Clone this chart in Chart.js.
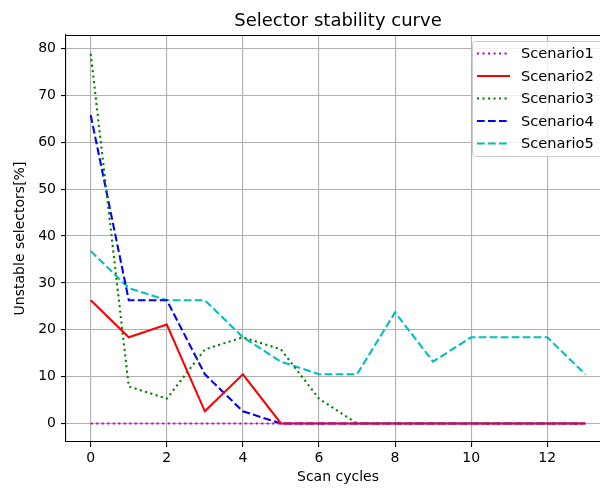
<!DOCTYPE html>
<html>
<head>
<meta charset="utf-8">
<script src="https://cdn.jsdelivr.net/npm/chart.js@4/dist/chart.umd.min.js"></script>
<style>
  html, body { margin: 0; padding: 0; background: #fff; overflow: hidden; }
  #wrap { width: 600px; height: 488px; overflow: hidden; }
</style>
</head>
<body>
<div id="wrap"><canvas id="c" width="620" height="488"></canvas></div>
<script>
// Scan cycle indices and % unstable selectors per scenario
const CYCLES = [0, 1, 2, 3, 4, 5, 6, 7, 8, 9, 10, 11, 12, 13];
const SCENARIO1 = [0, 0, 0, 0, 0, 0, 0, 0, 0, 0, 0, 0, 0, 0];
const SCENARIO2 = [26.3, 18.4, 21.1, 2.6, 10.5, 0, 0, 0, 0, 0, 0, 0, 0, 0];
const SCENARIO3 = [78.9, 7.9, 5.3, 15.8, 18.4, 15.8, 5.3, 0, 0, 0, 0, 0, 0, 0];
const SCENARIO4 = [65.8, 26.3, 26.3, 10.5, 2.6, 0, 0, 0, 0, 0, 0, 0, 0, 0];
const SCENARIO5 = [36.8, 28.9, 26.3, 26.3, 18.4, 13.2, 10.5, 10.5, 23.7, 13.2, 18.4, 18.4, 18.4, 10.5];
const NAMES = ["Scenario1", "Scenario2", "Scenario3", "Scenario4", "Scenario5"];

const FONT = '"DejaVu Sans", Verdana, sans-serif';
const LW = 2.08;
const DOTTED = [2.1, 3.4];
const DASHED = [7.7, 3.3];
const GRID = "#b0b0b0";

const series = [
  { data: SCENARIO1, color: "#bf00bf", dash: DOTTED },
  { data: SCENARIO2, color: "#ff0000", dash: [] },
  { data: SCENARIO3, color: "#008000", dash: DOTTED },
  { data: SCENARIO4, color: "#0000ff", dash: DASHED },
  { data: SCENARIO5, color: "#00bfbf", dash: DASHED },
];

const datasets = series.map((s, i) => ({
  label: NAMES[i],
  data: CYCLES.map((x, k) => ({ x, y: s.data[k] })),
  borderColor: s.color,
  borderWidth: LW,
  borderDash: s.dash,
  borderCapStyle: "butt",
  pointRadius: 0,
  tension: 0,
  fill: false,
}));

// title, top spine and matplotlib-style legend
const decor = {
  id: "decor",
  afterDatasetsDraw(chart) {
    const { ctx, chartArea: a } = chart;
    ctx.save();
    ctx.strokeStyle = "#000";
    ctx.lineWidth = 1.1;
    ctx.beginPath();
    ctx.moveTo(a.left, a.top + 0.5);
    ctx.lineTo(a.right, a.top + 0.5);
    ctx.stroke();

    ctx.fillStyle = "#000";
    ctx.font = "18px " + FONT;
    ctx.textAlign = "center";
    ctx.textBaseline = "alphabetic";
    ctx.fillText("Selector stability curve", (a.left + a.right) / 2, 25.5);

    // legend frame
    const bx = 472.5, by = 41.5, bw = 131, bh = 115, r = 3;
    ctx.beginPath();
    ctx.roundRect(bx, by, bw, bh, r);
    ctx.fillStyle = "rgba(255,255,255,0.8)";
    ctx.fill();
    ctx.strokeStyle = "#cccccc";
    ctx.lineWidth = 1;
    ctx.stroke();

    ctx.font = "14.6px " + FONT;
    ctx.textAlign = "left";
    ctx.textBaseline = "middle";
    series.forEach((s, i) => {
      const y = 53.5 + i * 22.5;
      ctx.beginPath();
      ctx.setLineDash(s.dash);
      ctx.strokeStyle = s.color;
      ctx.lineWidth = LW;
      ctx.moveTo(477, y);
      ctx.lineTo(510, y);
      ctx.stroke();
      ctx.setLineDash([]);
      ctx.fillStyle = "#000";
      ctx.fillText(NAMES[i], 521, y + 1);
    });
    ctx.restore();
  },
};

new Chart(document.getElementById("c"), {
  type: "line",
  data: { datasets },
  options: {
    responsive: false,
    animation: false,
    layout: { padding: { top: 35, right: 10, left: 0, bottom: 0 } },
    plugins: { legend: { display: false }, tooltip: { enabled: false } },
    scales: {
      x: {
        type: "linear",
        min: -0.65,
        max: 13.65,
        afterFit: (s) => { s.height = 46; },
        ticks: {
          stepSize: 2,
          includeBounds: false,
          color: "#000",
          font: { family: FONT, size: 14 },
          padding: 3,
          maxRotation: 0,
        },
        grid: { color: GRID, lineWidth: 1.1, tickLength: 5, tickColor: "#000", tickWidth: 1.1 },
        border: { display: true, color: "#000", width: 1.1 },
        title: {
          display: true,
          text: "Scan cycles",
          color: "#000",
          font: { family: FONT, size: 14 },
          padding: { top: 0, bottom: 2 },
        },
      },
      y: {
        min: -3.95,
        max: 82.9,
        afterFit: (s) => { s.width = 66; },
        ticks: {
          stepSize: 10,
          includeBounds: false,
          color: "#000",
          font: { family: FONT, size: 14 },
          padding: 5,
        },
        grid: { color: GRID, lineWidth: 1.1, tickLength: 5, tickColor: "#000", tickWidth: 1.1 },
        border: { display: true, color: "#000", width: 1.1 },
        title: {
          display: true,
          text: "Unstable selectors[%]",
          color: "#000",
          font: { family: FONT, size: 14 },
          padding: { top: 12, bottom: 0 },
        },
      },
    },
  },
  plugins: [decor],
});
</script>
</body>
</html>
